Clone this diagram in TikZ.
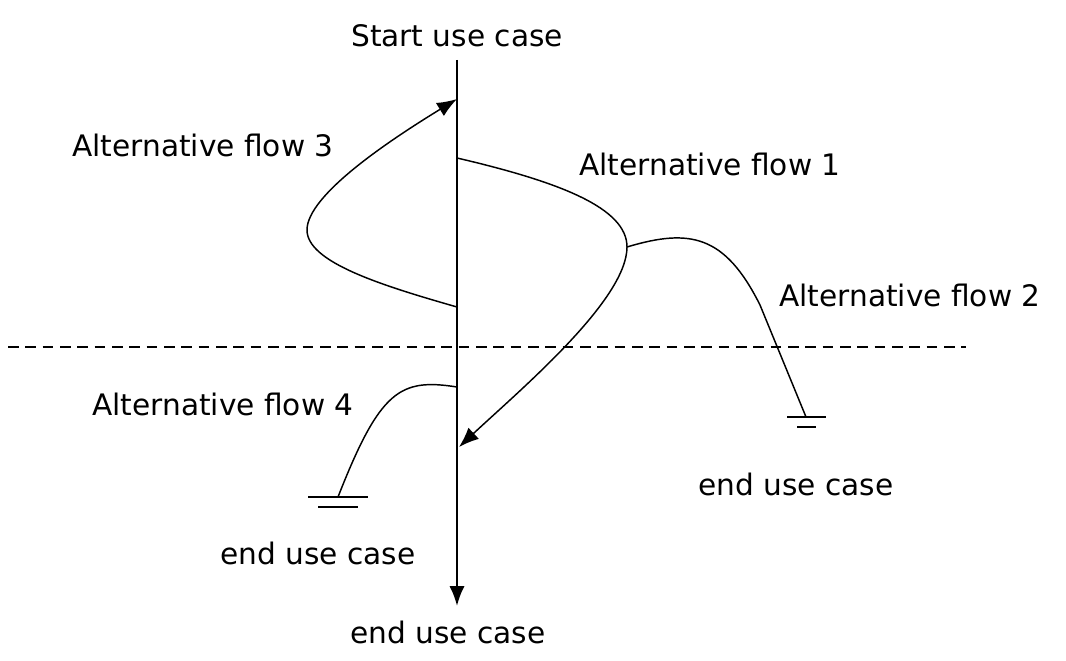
\documentclass[tikz,border=0pt]{standalone}
\usepackage{fontspec}
\setmainfont{DejaVu Sans}
\usetikzlibrary{arrows.meta}
\begin{document}
\begin{tikzpicture}[x=0.75pt,y=-0.75pt,
  lbl/.style={font=\fontsize{22.2}{26}\selectfont,anchor=base,inner sep=0pt},
  flow/.style={line width=1.1pt},
  tip/.style={-{Latex[length=15pt,width=11.5pt]}},
  gnd/.style={line width=1.1pt}]
\useasboundingbox (0,0) rectangle (1066,660);
% labels
\node[lbl] (start) at (457,47) {Start use case};
\node[lbl] (endb) at (448,643) {end use case};
\node[lbl] (endr) at (796,495) {end use case};
\node[lbl] (endl) at (318,564) {end use case};
\node[lbl] (af3) at (203,156) {Alternative flow 3};
\node[lbl] (af1) at (710,175) {Alternative flow 1};
\node[lbl] (af2) at (910,306) {Alternative flow 2};
\node[lbl] (af4) at (223,415) {Alternative flow 4};
% coordinates
\coordinate (top) at (457,60);
\coordinate (bot) at (457,606);
\coordinate (a3s) at (457,307);
\coordinate (a3e) at (457,99);
\coordinate (a1s) at (457,158);
\coordinate (turn) at (627,247);
\coordinate (a1e) at (459,447);
\coordinate (g2) at (806,417);
\coordinate (a4s) at (457,387);
\coordinate (g4) at (338,497);
\coordinate (dl) at (8,347);
\coordinate (dr) at (966,347);
% main line
\draw[line width=1.7pt,tip] (top) -- (bot);
% dashed separator
\draw[line width=1.1pt,dash pattern=on 8pt off 5pt] (dl) -- (dr);
% alternative flow 3
\draw[flow,tip] (a3s) .. controls (380,285) and (307,262) .. (307,230)
  .. controls (307,195) and (390,140) .. (a3e);
% alternative flow 1
\draw[flow,tip] (a1s) .. controls (560,182) and (627,208) .. (turn)
  .. controls (627,300) and (520,390) .. (a1e);
% alternative flow 2
\draw[flow] (turn) .. controls (690,228) and (725,235) .. (760,305) -- (g2);
\draw[gnd] ([shift={(-19,0)}]g2) -- ([shift={(20,0)}]g2);
\draw[gnd] ([shift={(-9,10)}]g2) -- ([shift={(10,10)}]g2);
% alternative flow 4
\draw[flow] (a4s) .. controls (400,378) and (380,390) .. (g4);
\draw[gnd] ([shift={(-30,0)}]g4) -- ([shift={(30,0)}]g4);
\draw[gnd] ([shift={(-20,10)}]g4) -- ([shift={(20,10)}]g4);
\end{tikzpicture}
\end{document}
